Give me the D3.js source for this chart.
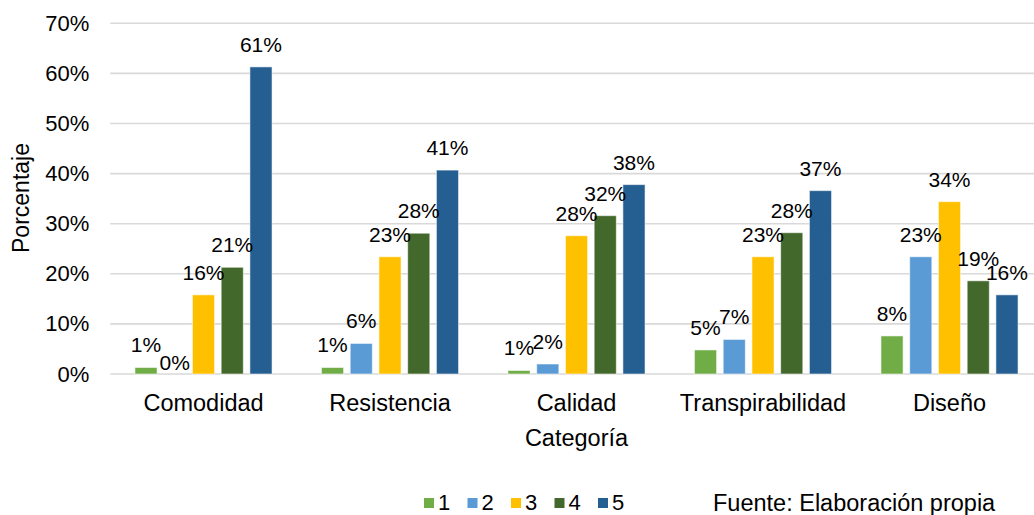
<!DOCTYPE html>
<html>
<head>
<meta charset="utf-8">
<script src="https://cdn.jsdelivr.net/npm/d3@7"></script>
<style>
  html, body { margin: 0; padding: 0; background: #fff; }
  svg { display: block; font-family: "Liberation Sans", Arial, sans-serif; }
</style>
</head>
<body>
<svg id="chart" width="1034" height="515"></svg>
<script>
// Categories evaluated and rating levels (1 to 5)
const categories = ["Comodidad", "Resistencia", "Calidad", "Transpirabilidad", "Diseño"];
const seriesNames = ["1", "2", "3", "4", "5"];
const seriesColors = ["#70AD47", "#5B9BD5", "#FFC000", "#43682B", "#255E91"];

// Share of answers for each rating level, one value per category
const rating1 = [0.013, 0.013, 0.007, 0.048, 0.076];
const rating2 = [0.000, 0.061, 0.020, 0.069, 0.234];
const rating3 = [0.158, 0.234, 0.276, 0.234, 0.344];
const rating4 = [0.213, 0.281, 0.316, 0.282, 0.186];
const rating5 = [0.613, 0.407, 0.378, 0.366, 0.158];

const yTicks = [0, 0.1, 0.2, 0.3, 0.4, 0.5, 0.6, 0.7];
const yTitle = "Porcentaje";
const xTitle = "Categoría";
const sourceNote = "Fuente: Elaboración propia";

const seriesValues = [rating1, rating2, rating3, rating4, rating5];
const rows = [];
categories.forEach((c, ci) => {
  seriesNames.forEach((s, si) => {
    rows.push({ category: c, series: s, si, value: seriesValues[si][ci] });
  });
});

const svg = d3.select("#chart");
const plot = { left: 110.25, right: 1042.75, top: 23.3, bottom: 374 };

const x0 = d3.scaleBand()
  .domain(categories)
  .range([plot.left, plot.right])
  .paddingInner(0.265)
  .paddingOuter(0.1325);

const x1 = d3.scaleBand()
  .domain(seriesNames)
  .range([0, x0.bandwidth()])
  .paddingInner(0.23);

const y = d3.scaleLinear()
  .domain([0, 0.7])
  .range([plot.bottom, plot.top]);

const color = d3.scaleOrdinal().domain(seriesNames).range(seriesColors);
const pct = d3.format(".0%");

// Horizontal gridlines
svg.append("g")
  .selectAll("line")
  .data(yTicks)
  .join("line")
  .attr("x1", plot.left)
  .attr("x2", plot.right)
  .attr("y1", d => y(d))
  .attr("y2", d => y(d))
  .attr("stroke", "#d9d9d9")
  .attr("stroke-width", 1.6);

// Y axis tick labels
const yAxis = svg.append("g")
  .attr("transform", `translate(${plot.left},0)`)
  .call(d3.axisLeft(y).tickValues(yTicks).tickFormat(d3.format(".0%")).tickSize(0).tickPadding(21));
yAxis.select(".domain").remove();
yAxis.selectAll("text")
  .attr("font-size", 22)
  .attr("font-family", "Liberation Sans, Arial, sans-serif")
  .attr("fill", "#000");

// Bars
const groups = svg.append("g")
  .selectAll("g")
  .data(categories)
  .join("g")
  .attr("transform", d => `translate(${x0(d)},0)`);

groups.selectAll("rect")
  .data(c => rows.filter(r => r.category === c && r.value > 0))
  .join("rect")
  .attr("x", d => x1(d.series))
  .attr("width", x1.bandwidth())
  .attr("y", d => y(d.value))
  .attr("height", d => y(0) - y(d.value))
  .attr("fill", d => color(d.series))
  .attr("stroke", "rgba(255,255,255,0.55)")
  .attr("stroke-width", 1);

// Value labels above each bar
groups.selectAll("text")
  .data(c => rows.filter(r => r.category === c))
  .join("text")
  .attr("x", d => x1(d.series) + x1.bandwidth() / 2)
  .attr("y", d => d.value === 0 ? y(0) - 4 : y(d.value) - 15)
  .attr("text-anchor", "middle")
  .attr("font-size", 21)
  .attr("fill", "#000")
  .text(d => pct(d.value));

// Category labels
svg.append("g")
  .selectAll("text")
  .data(categories)
  .join("text")
  .attr("x", d => x0(d) + x0.bandwidth() / 2)
  .attr("y", 411)
  .attr("text-anchor", "middle")
  .attr("font-size", 23.5)
  .attr("fill", "#000")
  .text(d => d);

// Axis titles
svg.append("text")
  .attr("x", (plot.left + plot.right) / 2)
  .attr("y", 446)
  .attr("text-anchor", "middle")
  .attr("font-size", 23.5)
  .attr("fill", "#000")
  .text(xTitle);

svg.append("text")
  .attr("transform", `translate(29,198) rotate(-90)`)
  .attr("text-anchor", "middle")
  .attr("font-size", 23)
  .attr("fill", "#000")
  .text(yTitle);

// Legend
const legend = svg.append("g")
  .selectAll("g")
  .data(seriesNames)
  .join("g")
  .attr("transform", (d, i) => `translate(${424 + i * 43.5},0)`);

legend.append("rect")
  .attr("x", 0)
  .attr("y", 498)
  .attr("width", 10)
  .attr("height", 10)
  .attr("fill", d => color(d));

legend.append("text")
  .attr("x", 14)
  .attr("y", 510)
  .attr("font-size", 22)
  .attr("fill", "#000")
  .text(d => d);

// Source note
svg.append("text")
  .attr("x", 713)
  .attr("y", 511)
  .attr("font-size", 23.5)
  .attr("fill", "#000")
  .text(sourceNote);
</script>
</body>
</html>
